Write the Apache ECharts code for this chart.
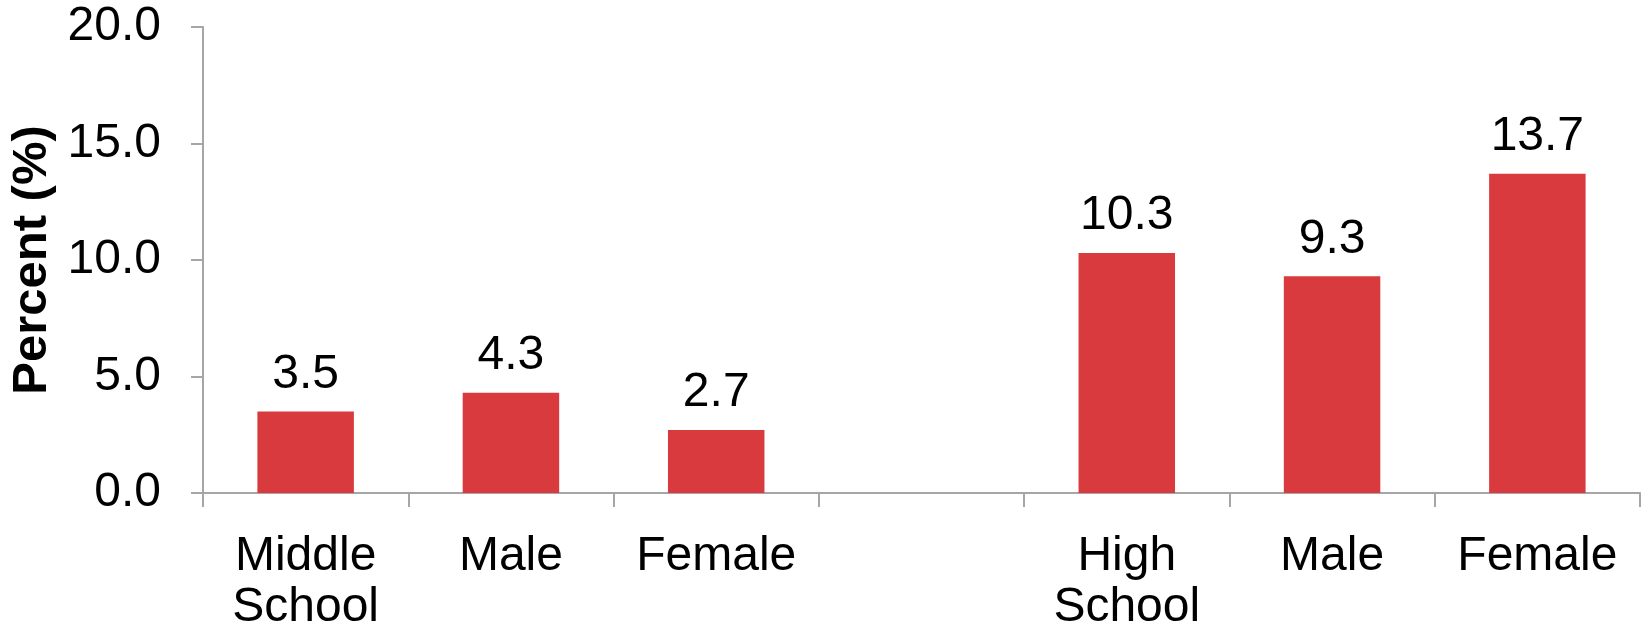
<!DOCTYPE html>
<html>
<head>
<meta charset="utf-8">
<script src="https://cdn.jsdelivr.net/npm/echarts@6/dist/echarts.min.js"></script>
<style>
  html, body { margin: 0; padding: 0; background: #fff; }
  #main { width: 1648px; height: 632px; }
</style>
</head>
<body>
<div id="main"></div>
<script>
// chart data
var categories = ["Middle\nSchool", "Male", "Female", "", "High\nSchool", "Male", "Female"];
var percents = [3.5, 4.3, 2.7, "-", 10.3, 9.3, 13.7];
var yTicks = { min: 0, max: 20, interval: 5 };

var chart = echarts.init(document.getElementById("main"));

var option = {
  animation: false,
  backgroundColor: "#ffffff",
  textStyle: { fontFamily: "Liberation Sans, Arial, sans-serif" },
  grid: { left: 203, right: 8, top: 27, bottom: 139, outerBoundsMode: "none", containLabel: false },
  xAxis: {
    type: "category",
    data: categories,
    axisLine: { lineStyle: { color: "#a6a6a6", width: 2 } },
    axisTick: { show: true, length: 14, lineStyle: { color: "#a6a6a6", width: 2 } },
    axisLabel: {
      interval: 0,
      margin: 38,
      fontSize: 48,
      lineHeight: 51,
      color: "#000"
    }
  },
  yAxis: {
    type: "value",
    min: yTicks.min,
    max: yTicks.max,
    interval: yTicks.interval,
    name: "Percent (%)",
    nameLocation: "middle",
    nameGap: 143,
    nameTextStyle: { fontSize: 49, fontWeight: "bold", color: "#000" },
    splitLine: { show: false },
    axisLine: { show: true, lineStyle: { color: "#a6a6a6", width: 2 } },
    axisTick: { show: true, length: 12, lineStyle: { color: "#a6a6a6", width: 2 } },
    axisLabel: {
      margin: 42,
      fontSize: 48,
      color: "#000",
      formatter: function (v) { return v.toFixed(1); }
    }
  },
  series: [
    {
      type: "bar",
      data: percents,
      barWidth: "47%",
      itemStyle: { color: "#d93a3d" },
      label: {
        show: true,
        position: "top",
        distance: 13,
        fontSize: 48,
        color: "#000",
        formatter: function (p) { return p.value.toFixed(1); }
      }
    }
  ]
};

chart.setOption(option);
</script>
</body>
</html>
